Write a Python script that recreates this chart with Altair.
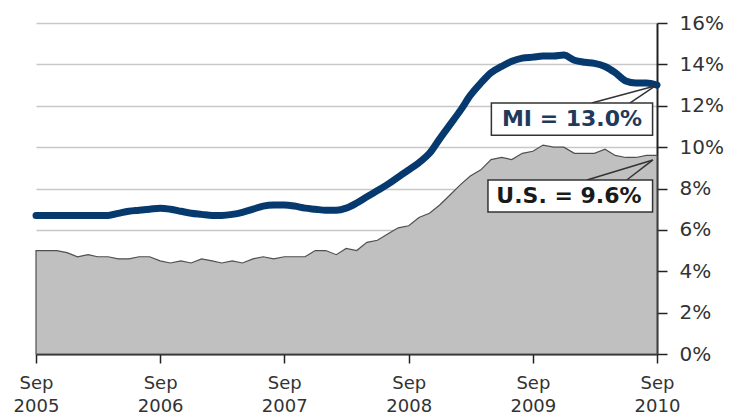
import altair as alt
import pandas as pd

months = pd.date_range("2005-09-01", "2010-09-01", freq="MS").strftime("%Y-%m-%d").tolist()

us_rate = [5.0, 5.0, 5.0, 4.9,
           4.7, 4.8, 4.7, 4.7, 4.6, 4.6, 4.7, 4.7, 4.5, 4.4, 4.5, 4.4,
           4.6, 4.5, 4.4, 4.5, 4.4, 4.6, 4.7, 4.6, 4.7, 4.7, 4.7, 5.0,
           5.0, 4.8, 5.1, 5.0, 5.4, 5.5, 5.8, 6.1, 6.2, 6.6, 6.8, 7.2,
           7.7, 8.2, 8.6, 8.9, 9.4, 9.5, 9.4, 9.7, 9.8, 10.1, 10.0, 10.0,
           9.7, 9.7, 9.7, 9.9, 9.6, 9.5, 9.5, 9.6, 9.6]

mi_rate = [6.7, 6.7, 6.7, 6.7,
           6.7, 6.7, 6.7, 6.7, 6.8, 6.9, 6.95, 7.0, 7.05, 7.0, 6.9, 6.8,
           6.75, 6.7, 6.7, 6.75, 6.85, 7.0, 7.15, 7.2, 7.2, 7.15, 7.05, 7.0,
           6.95, 6.95, 7.05, 7.3, 7.6, 7.9, 8.2, 8.55, 8.9, 9.25, 9.7, 10.4,
           11.1, 11.8, 12.5, 13.1, 13.6, 13.9, 14.15, 14.3, 14.35, 14.4, 14.4, 14.45,
           14.2, 14.1, 14.05, 13.9, 13.6, 13.2, 13.1, 13.1, 13.0]

y_ticks = [0, 2, 4, 6, 8, 10, 12, 14, 16]
x_ticks = ["2005-09-01", "2006-09-01", "2007-09-01", "2008-09-01", "2009-09-01", "2010-09-01"]

# callout annotations (in data coordinates)
box_label = ["MI = 13.0%", "U.S. = 9.6%"]
box_color = ["#1f3a5c", "#1a1a1a"]
box_x = ["2009-05-02", "2009-04-22"]
box_x2 = ["2010-08-19", "2010-08-19"]
box_top = [12.13, 8.41]
box_bottom = [10.58, 6.86]
text_x = ["2009-12-25", "2009-12-16"]
text_y = [11.35, 7.64]

ptr_seg = ["mi1", "mi1", "mi2", "mi2", "us1", "us1", "us2", "us2"]
ptr_x = ["2010-02-21", "2010-08-26", "2010-06-13", "2010-08-26",
         "2010-02-07", "2010-08-20", "2010-06-04", "2010-08-20"]
ptr_y = [12.13, 12.95, 12.13, 12.95, 8.41, 9.38, 8.41, 9.38]

df = pd.DataFrame({"date": months, "us": us_rate, "mi": mi_rate})
boxes = pd.DataFrame({"label": box_label, "color": box_color, "x": box_x, "x2": box_x2,
                      "top": box_top, "bottom": box_bottom, "tx": text_x, "ty": text_y})
ptrs = pd.DataFrame({"seg": ptr_seg, "x": ptr_x, "y": ptr_y})

FONT = "DejaVu Sans"

xscale = alt.Scale(type="utc", domain=[alt.DateTime(year=2005, month=9, date=1, utc=True),
                                       alt.DateTime(year=2010, month=9, date=1, utc=True)])
yscale = alt.Scale(domain=[0, 16], nice=False)

xaxis = alt.Axis(
    title=None, grid=False,
    values=[alt.DateTime(year=int(s[:4]), month=9, date=1, utc=True) for s in x_ticks],
    labelExpr="['Sep', utcFormat(datum.value, '%Y')]",
    labelFont=FONT, labelFontSize=18, labelColor="#333333", labelLineHeight=23,
    labelPadding=11, labelFlush=False, labelOverlap=False,
    domainColor="#222222", domainWidth=2, tickColor="#222222", tickWidth=1.5, tickSize=9,
)
yaxis = alt.Axis(
    title=None, orient="right", values=y_ticks, labelExpr="datum.value + '%'",
    grid=True, gridColor="#c8c8c8", gridWidth=1.5,
    labelFont=FONT, labelFontSize=20, labelColor="#333333", labelPadding=12,
    domainColor="#222222", domainWidth=2, tickColor="#222222", tickWidth=1.5, tickSize=10,
)

area = alt.Chart(df).mark_area(color="#c0c0c0", stroke="#505050", strokeWidth=1.2).encode(
    x=alt.X("date:T", scale=xscale, axis=xaxis),
    y=alt.Y("us:Q", scale=yscale, axis=yaxis),
)

line = alt.Chart(df).mark_line(color="#063a6e", strokeWidth=7, strokeCap="round",
                               strokeJoin="round", interpolate="monotone").encode(
    x=alt.X("date:T", scale=xscale, axis=xaxis),
    y=alt.Y("mi:Q", scale=yscale, axis=yaxis),
)

pointer = alt.Chart(ptrs).mark_line(color="#333333", strokeWidth=1.5).encode(
    x=alt.X("x:T", scale=xscale, axis=xaxis),
    y=alt.Y("y:Q", scale=yscale, axis=yaxis),
    detail="seg:N",
)

rect = alt.Chart(boxes).mark_rect(fill="white", stroke="#333333", strokeWidth=1.5).encode(
    x=alt.X("x:T", scale=xscale, axis=xaxis),
    x2="x2:T",
    y=alt.Y("top:Q", scale=yscale, axis=yaxis),
    y2="bottom:Q",
)

text = alt.Chart(boxes).mark_text(font=FONT, fontSize=22, fontWeight="bold",
                                  align="center", baseline="middle").encode(
    x=alt.X("tx:T", scale=xscale, axis=xaxis),
    y=alt.Y("ty:Q", scale=yscale, axis=yaxis),
    text="label:N",
    color=alt.Color("color:N", scale=None),
)

chart = alt.layer(area, line, pointer, rect, text).properties(
    width=621, height=331,
    autosize=alt.AutoSizeParams(type="none"),
    padding={"left": 28, "top": 15, "right": 80, "bottom": 60},
    background="white",
).configure_view(stroke=None)

chart.save("out.html", embed_options={"renderer": "svg", "actions": False})
